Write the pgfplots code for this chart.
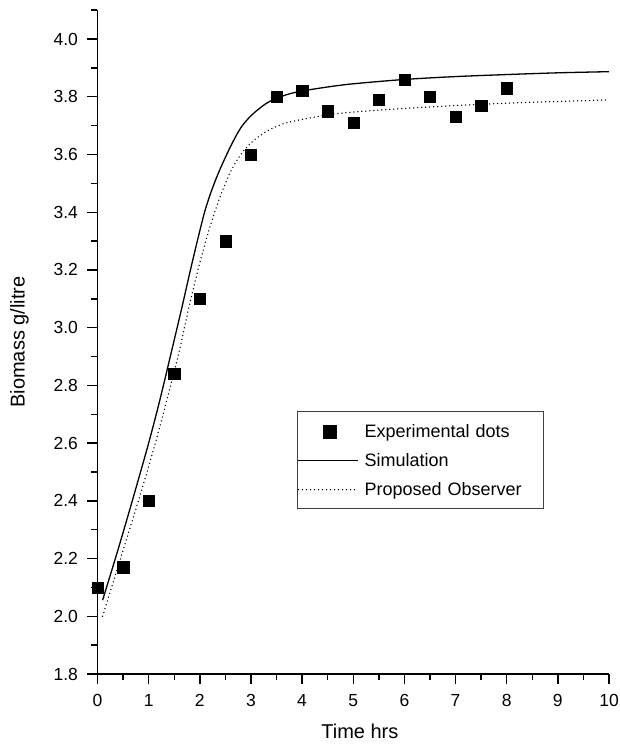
\documentclass[border=0pt]{standalone}
\usepackage{fontspec}
\setmainfont{Liberation Sans}
\usepackage{pgfplots}
\pgfplotsset{compat=1.18}
\pgfplotsset{
  lineleg/.style={legend image code/.code={\draw[##1] (0pt,5.5pt) -- (59.4pt,5.5pt);}},
  markleg/.style={legend image code/.code={\draw[##1, mark size=6.3pt] plot coordinates {(31pt,5.5pt)};}},
}

\begin{document}
\begin{tikzpicture}
\path[use as bounding box] (-97.5pt,-70pt) rectangle (521.5pt,674pt);
\begin{axis}[
  scale only axis, width=511.5pt, height=663.8pt,
  xmin=0, xmax=10, ymin=1.8, ymax=4.1,
  axis x line=bottom, axis y line=left,
  axis line style={-, line width=1.4pt, black},
  tick align=outside,
  major tick length=10pt, minor tick length=6pt,
  every tick/.style={black, line width=1.4pt},
  xtick={0,1,2,3,4,5,6,7,8,9,10},
  minor xtick={0.5,1.5,2.5,3.5,4.5,5.5,6.5,7.5,8.5,9.5},
  ytick={1.8,2.0,2.2,2.4,2.6,2.8,3.0,3.2,3.4,3.6,3.8,4.0},
  minor ytick={1.9,2.1,2.3,2.5,2.7,2.9,3.1,3.3,3.5,3.7,3.9,4.1},
  yticklabel style={/pgf/number format/fixed, /pgf/number format/fixed zerofill, /pgf/number format/precision=1, xshift=-6pt},
  xticklabel style={yshift=-7pt},
  ticklabel style={font=\fontsize{17.5}{20}\selectfont},
  /pgf/number format/assume math mode=true,
  xlabel={Time hrs}, ylabel={Biomass g/litre},
  label style={font=\fontsize{20}{24}\selectfont},
  xlabel style={at={(axis description cs:0.513,-0.0979)}, anchor=base},
  ylabel style={at={(axis description cs:-0.1427,0.5)}, anchor=base},
  clip=false,
  legend style={at={(axis description cs:0.3906,0.3967)}, anchor=north west,
    draw=black!75, line width=0.9pt, inner xsep=0pt, inner ysep=7pt, row sep=4pt,
    font=\fontsize{18}{21}\selectfont,
    nodes={inner xsep=6pt, inner ysep=2pt, text height=17pt, text depth=4pt, text width=173pt, anchor=base west}},
]
\addplot[only marks, mark=square*, mark size=5.6pt, mark options={fill=black, draw=black, line width=0.3pt}, markleg]
  coordinates {
  (0,2.10) (0.5,2.17) (1,2.40) (1.5,2.84) (2,3.10) (2.5,3.30) (3,3.60) (3.5,3.80)
  (4,3.82) (4.5,3.75) (5,3.71) (5.5,3.79) (6,3.86) (6.5,3.80) (7,3.73) (7.5,3.77) (8,3.83)
  };
\addlegendentry{Experimental dots}
\addplot[black, line width=1.3pt, smooth, tension=0.5, lineleg]
  coordinates {
  (0.1,2.056) (0.4,2.23) (0.68,2.40) (1.0,2.60) (1.22,2.75) (1.45,2.92) (1.65,3.07)
  (1.85,3.225) (2.07,3.385) (2.2,3.46) (2.35,3.53) (2.5,3.59) (2.65,3.645) (2.8,3.692)
  (2.95,3.725) (3.1,3.75) (3.3,3.777) (3.5,3.795) (3.75,3.81) (4.0,3.82) (4.5,3.834)
  (5.0,3.845) (6.0,3.86) (7.0,3.87) (8.0,3.877) (9.0,3.883) (10.0,3.887)
  };
\addlegendentry{Simulation}
\addplot[black, line width=1.5pt, line cap=round, dash pattern=on 0pt off 4pt, smooth, tension=0.5, lineleg]
  coordinates {
  (0.1,2.00) (0.45,2.20) (0.80,2.40) (1.1,2.58) (1.4,2.78) (1.6,2.92) (1.8,3.08)
  (2.0,3.225) (2.2,3.35) (2.4,3.455) (2.6,3.54) (2.8,3.60) (3.0,3.64) (3.2,3.668)
  (3.44,3.693) (3.7,3.71) (3.96,3.72) (4.48,3.737) (5.0,3.747) (6.04,3.76)
  (7.51,3.774) (8.5,3.781) (10.0,3.789)
  };
\addlegendentry{Proposed Observer}
\end{axis}
\end{tikzpicture}
\end{document}
